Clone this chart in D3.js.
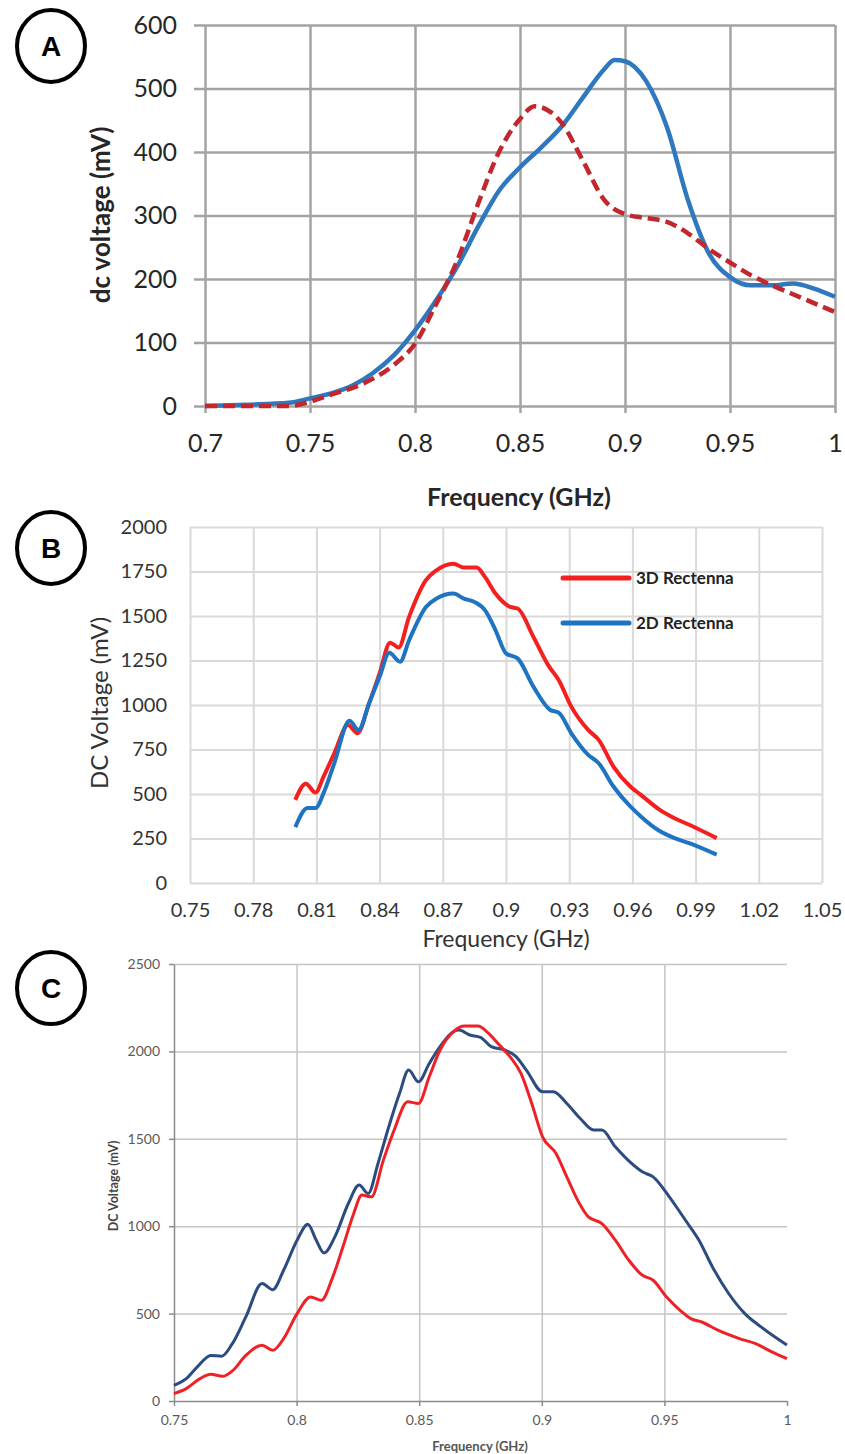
<!DOCTYPE html>
<html>
<head>
<meta charset="utf-8">
<script src="https://cdn.jsdelivr.net/npm/d3@7"></script>
<style>
  body { margin: 0; background: #fff; }
  svg { display: block; }
</style>
</head>
<body>
<svg id="fig" width="845" height="1454"></svg>
<script>
// ---------- panel A data ----------
const xTicksA = [0.7, 0.75, 0.8, 0.85, 0.9, 0.95, 1];
const yTicksA = [0, 100, 200, 300, 400, 500, 600];
const freqBlueA = [0.70,0.72,0.74,0.75,0.76,0.77,0.78,0.79,0.80,0.81,0.82,0.83,0.84,0.85,0.86,0.87,0.88,0.89,0.895,0.90,0.91,0.92,0.93,0.94,0.95,0.96,0.97,0.98,0.99,1.00];
const voltBlueA = [0,2,5,12,20,32,52,80,119,166,219,282,339,376,407,441,486,530,545,543,512,439,324,240,203,190,190,193,185,172];
const freqRedA = [0.70,0.72,0.74,0.75,0.76,0.775,0.79,0.80,0.81,0.82,0.83,0.84,0.85,0.857,0.865,0.87,0.88,0.89,0.90,0.91,0.92,0.93,0.94,0.95,0.96,0.97,0.98,0.99,1.00];
const voltRedA = [0,0,0,7,18,35,65,98,160,228,318,400,452,472,462,445,386,325,302,296,290,272,247,226,206,190,176,162,148];

// ---------- panel B data ----------
const xTicksB = [0.75,0.78,0.81,0.84,0.87,0.9,0.93,0.96,0.99,1.02,1.05];
const yTicksB = [0,250,500,750,1000,1250,1500,1750,2000];
const seriesNamesB = ["3D Rectenna", "2D Rectenna"];
const freq3D = [0.800,0.805,0.8096,0.8134,0.8185,0.825,0.8295,0.835,0.840,0.845,0.849,0.854,0.862,0.867,0.875,0.880,0.886,0.890,0.895,0.902,0.9055,0.913,0.920,0.925,0.931,0.939,0.944,0.951,0.959,0.964,0.973,0.980,0.987,1.000];
const volt3D = [467,557,508,598,729,888,841,1009,1178,1350,1323,1495,1701,1757,1794,1772,1772,1720,1626,1551,1542,1383,1224,1140,991,860,804,654,542,495,411,364,327,252];
const freq2D = [0.800,0.8058,0.8096,0.8134,0.8185,0.8257,0.830,0.835,0.840,0.8446,0.8497,0.854,0.862,0.867,0.875,0.880,0.885,0.890,0.895,0.900,0.9055,0.913,0.921,0.925,0.931,0.939,0.944,0.951,0.959,0.964,0.972,0.980,0.987,1.000];
const volt2D = [314,421,421,505,673,912,860,1009,1159,1293,1243,1364,1551,1598,1626,1598,1579,1533,1421,1290,1262,1103,972,957,841,720,673,542,430,374,299,252,224,159];

// ---------- panel C data ----------
const xTicksC = [0.75, 0.8, 0.85, 0.9, 0.95, 1];
const yTicksC = [0, 500, 1000, 1500, 2000, 2500];
const freqNavyC = [0.75,0.755,0.7595,0.765,0.7694,0.7738,0.7793,0.7859,0.7903,0.7947,0.8002,0.8046,0.808,0.8112,0.8156,0.8211,0.8255,0.8292,0.8332,0.8376,0.842,0.8457,0.8497,0.8541,0.8585,0.864,0.8662,0.8706,0.875,0.8794,0.8849,0.8893,0.8937,0.9003,0.9047,0.9102,0.9157,0.9212,0.9245,0.93,0.9366,0.941,0.9454,0.952,0.9586,0.9641,0.9696,0.9762,0.9828,0.9894,0.996,1.0];
const voltNavyC = [90,128,195,261,256,328,481,672,637,748,920,1011,920,847,939,1130,1235,1187,1359,1569,1760,1893,1826,1931,2027,2113,2122,2094,2080,2027,2008,1973,1893,1769,1769,1702,1616,1550,1550,1454,1359,1311,1282,1168,1034,920,767,615,500,424,357,320];
const freqRedC = [0.75,0.755,0.7606,0.765,0.7698,0.7738,0.7793,0.7859,0.7903,0.7947,0.8002,0.8057,0.8101,0.8145,0.8189,0.8233,0.8266,0.8305,0.8354,0.8398,0.8453,0.8497,0.8541,0.8585,0.864,0.8684,0.8739,0.8783,0.8827,0.8871,0.8915,0.8959,0.9003,0.9058,0.9102,0.9146,0.919,0.9245,0.93,0.9355,0.941,0.9454,0.9509,0.9564,0.9608,0.9652,0.9718,0.9806,0.9872,0.9938,1.0];
const voltRedC = [42,71,128,153,141,172,261,319,290,357,500,595,576,700,882,1073,1178,1168,1378,1550,1712,1702,1855,2008,2113,2145,2145,2103,2036,1969,1874,1702,1511,1416,1282,1149,1053,1015,920,805,719,691,595,519,471,452,405,357,328,281,242];

const svg = d3.select("#fig");
const calibri = "Lato, 'Open Sans', sans-serif";
const plain = d => d;

const zip = (xs, ys) => xs.map((x, i) => ({ f: x, v: ys[i] }));

// circled panel letters
function badge(cx, cy, letter) {
    const g = svg.append("g").attr("class", "badge");
    g.append("ellipse")
        .attr("cx", cx).attr("cy", cy).attr("rx", 34).attr("ry", 36)
        .attr("fill", "#fff").attr("stroke", "#000").attr("stroke-width", 4);
    g.append("text")
        .attr("x", cx).attr("y", cy + 10)
        .attr("text-anchor", "middle")
        .style("font-family", "'Liberation Sans', Arial, sans-serif")
        .style("font-weight", 700)
        .style("font-size", "28px")
        .text(letter);
}

function styleAxis(g, size, color, weight) {
    g.select(".domain").remove();
    g.selectAll("text")
        .style("font-family", calibri)
        .style("font-size", size + "px")
        .style("font-weight", weight || 400)
        .attr("fill", color);
}

/////////////////////////////// A ///////////////////////////////
{
    const xA = d3.scaleLinear().domain([0.7, 1]).range([205, 835]);
    const yA = d3.scaleLinear().domain([0, 600]).range([406, 25]);

    // gridlines
    svg.append("g")
        .attr("transform", "translate(194,0)")
        .call(d3.axisLeft(yA).tickValues(yTicksA).tickSize(-641).tickFormat(""))
        .call(g => g.select(".domain").remove())
        .selectAll("line").attr("stroke", "#a3a3a3").attr("stroke-width", 2.5);
    svg.append("g")
        .attr("transform", "translate(0,413)")
        .call(d3.axisBottom(xA).tickValues(xTicksA).tickSize(-388).tickFormat(""))
        .call(g => g.select(".domain").remove())
        .selectAll("line").attr("stroke", "#a3a3a3").attr("stroke-width", 2.5);

    // tick labels
    svg.append("g")
        .attr("transform", "translate(177,0)")
        .call(d3.axisLeft(yA).tickValues(yTicksA).tickSize(0).tickPadding(0).tickFormat(plain))
        .call(g => styleAxis(g, 25, "#262626"));
    svg.append("g")
        .attr("transform", "translate(0,434)")
        .call(d3.axisBottom(xA).tickValues(xTicksA).tickSize(0).tickPadding(0).tickFormat(plain))
        .call(g => styleAxis(g, 25, "#262626"));

    const line = d3.line().x(d => xA(d.f)).y(d => yA(d.v)).curve(d3.curveMonotoneX);

    svg.append("path")
        .datum(zip(freqBlueA, voltBlueA))
        .attr("d", line)
        .attr("fill", "none")
        .attr("stroke", "#2f78bf")
        .attr("stroke-width", 4.5);

    svg.append("path")
        .datum(zip(freqRedA, voltRedA))
        .attr("d", line)
        .attr("fill", "none")
        .attr("stroke", "#c1272d")
        .attr("stroke-width", 4.5)
        .style("stroke-dasharray", "12,6");

    svg.append("text")
        .attr("x", 519).attr("y", 506)
        .attr("text-anchor", "middle")
        .style("font-family", calibri).style("font-weight", 700).style("font-size", "25px")
        .attr("fill", "#262626")
        .text("Frequency (GHz)");
    svg.append("text")
        .attr("transform", "translate(110,215) rotate(-90)")
        .attr("text-anchor", "middle")
        .style("font-family", calibri).style("font-weight", 700).style("font-size", "26px")
        .attr("fill", "#262626")
        .text("dc voltage (mV)");

    badge(51, 46, "A");
}

/////////////////////////////// B ///////////////////////////////
{
    const xB = d3.scaleLinear().domain([0.75, 1.05]).range([190, 822]);
    const yB = d3.scaleLinear().domain([0, 2000]).range([883, 527]);

    svg.append("g")
        .attr("transform", "translate(190,0)")
        .call(d3.axisLeft(yB).tickValues(yTicksB).tickSize(-632).tickFormat(""))
        .call(g => g.select(".domain").remove())
        .selectAll("line").attr("stroke", "#d9d9d9").attr("stroke-width", 2);
    svg.append("g")
        .attr("transform", "translate(0,883)")
        .call(d3.axisBottom(xB).tickValues(xTicksB).tickSize(-356).tickFormat(""))
        .call(g => g.select(".domain").remove())
        .selectAll("line").attr("stroke", "#d9d9d9").attr("stroke-width", 2);

    svg.append("g")
        .attr("transform", "translate(167,0)")
        .call(d3.axisLeft(yB).tickValues(yTicksB).tickSize(0).tickPadding(0).tickFormat(plain))
        .call(g => styleAxis(g, 20, "#333"));
    svg.append("g")
        .attr("transform", "translate(0,903)")
        .call(d3.axisBottom(xB).tickValues(xTicksB).tickSize(0).tickPadding(0).tickFormat(plain))
        .call(g => styleAxis(g, 20, "#333"));

    const line = d3.line().x(d => xB(d.f)).y(d => yB(d.v)).curve(d3.curveMonotoneX);
    const colorsB = ["#f41f1f", "#1f74c1"];
    [zip(freq3D, volt3D), zip(freq2D, volt2D)].forEach((s, i) => {
        svg.append("path")
            .datum(s)
            .attr("d", line)
            .attr("fill", "none")
            .attr("stroke", colorsB[i])
            .attr("stroke-width", 4)
            .attr("stroke-linejoin", "round");
    });

    // legend
    const leg = svg.append("g").attr("class", "legend");
    seriesNamesB.forEach((name, i) => {
        const y = 578 + i * 45;
        leg.append("line")
            .attr("x1", 563).attr("x2", 629).attr("y1", y).attr("y2", y)
            .attr("stroke", colorsB[i]).attr("stroke-width", 5).attr("stroke-linecap", "round");
        leg.append("text")
            .attr("x", 636).attr("y", y + 6)
            .style("font-family", calibri).style("font-weight", 700).style("font-size", "17px")
            .attr("fill", "#222")
            .text(name);
    });

    svg.append("text")
        .attr("x", 506).attr("y", 947)
        .attr("text-anchor", "middle")
        .style("font-family", calibri).style("font-size", "23px")
        .attr("fill", "#333")
        .text("Frequency (GHz)");
    svg.append("text")
        .attr("transform", "translate(108,703) rotate(-90)")
        .attr("text-anchor", "middle")
        .style("font-family", calibri).style("font-size", "24px")
        .attr("fill", "#333")
        .text("DC Voltage (mV)");

    badge(51, 548, "B");
}

/////////////////////////////// C ///////////////////////////////
{
    const xC = d3.scaleLinear().domain([0.75, 1]).range([174, 787]);
    const yC = d3.scaleLinear().domain([0, 2500]).range([1401, 964]);

    svg.append("g")
        .attr("transform", "translate(174,0)")
        .call(d3.axisLeft(yC).tickValues(yTicksC.slice(1)).tickSize(-613).tickFormat(""))
        .call(g => g.select(".domain").remove())
        .selectAll("line").attr("stroke", "#c4c4c4").attr("stroke-width", 1.5);
    svg.append("g")
        .attr("transform", "translate(0,1401)")
        .call(d3.axisBottom(xC).tickValues(xTicksC.slice(1, -1)).tickSize(-437).tickFormat(""))
        .call(g => g.select(".domain").remove())
        .selectAll("line").attr("stroke", "#c4c4c4").attr("stroke-width", 1.5);

    // axes with small outward ticks
    const axisStyle = g => {
        g.select(".domain").attr("stroke", "#8c8c8c").attr("stroke-width", 1.5);
        g.selectAll(".tick line").attr("stroke", "#8c8c8c").attr("stroke-width", 1.5);
        g.selectAll("text").style("font-family", calibri).style("font-size", "14px").attr("fill", "#5a5a5a");
    };
    svg.append("g")
        .attr("transform", "translate(174,0)")
        .call(d3.axisLeft(yC).tickValues(yTicksC).tickSize(5).tickSizeOuter(0).tickPadding(9).tickFormat(plain))
        .call(axisStyle);
    svg.append("g")
        .attr("transform", "translate(0,1401)")
        .call(d3.axisBottom(xC).tickValues(xTicksC).tickSize(5).tickSizeOuter(0).tickPadding(9).tickFormat(plain))
        .call(axisStyle);

    const line = d3.line().x(d => xC(d.f)).y(d => yC(d.v)).curve(d3.curveMonotoneX);
    svg.append("path")
        .datum(zip(freqNavyC, voltNavyC))
        .attr("d", line)
        .attr("fill", "none")
        .attr("stroke", "#2c4c80")
        .attr("stroke-width", 3);
    svg.append("path")
        .datum(zip(freqRedC, voltRedC))
        .attr("d", line)
        .attr("fill", "none")
        .attr("stroke", "#ee2226")
        .attr("stroke-width", 3);

    svg.append("text")
        .attr("x", 480).attr("y", 1451)
        .attr("text-anchor", "middle")
        .style("font-family", calibri).style("font-weight", 700).style("font-size", "13px")
        .attr("fill", "#555")
        .text("Frequency (GHz)");
    svg.append("text")
        .attr("transform", "translate(118,1186) rotate(-90)")
        .attr("text-anchor", "middle")
        .style("font-family", calibri).style("font-weight", 700).style("font-size", "12.5px")
        .attr("fill", "#444")
        .text("DC Voltage (mV)");

    badge(51, 988, "C");
}
</script>
</body>
</html>
